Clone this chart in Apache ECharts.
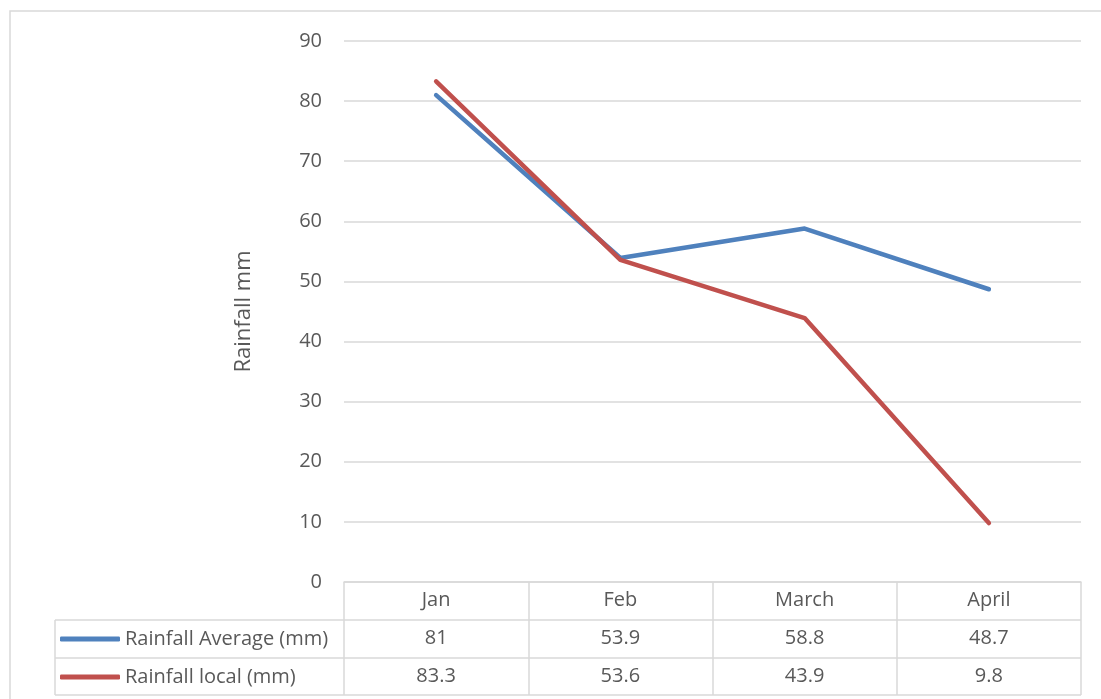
<!DOCTYPE html>
<html>
<head>
<meta charset="utf-8">
<script src="https://cdn.jsdelivr.net/npm/echarts@6/dist/echarts.min.js"></script>
<style>html,body{margin:0;padding:0;background:#fff;}#c{width:1101px;height:699px;}</style>
</head>
<body>
<div id="c"></div>
<script>
const categories = ['Jan', 'Feb', 'March', 'April'];
const seriesNames = ['Rainfall Average (mm)', 'Rainfall local (mm)'];
const rainfallAverage = [81, 53.9, 58.8, 48.7];
const rainfallLocal = [83.3, 53.6, 43.9, 9.8];
const yTicks = { min: 0, max: 90, interval: 10 };

const W = 1101, H = 699;
const gridLeft = 344, gridRight = 20, gridTop = 41, gridBottom = 117;
const rowH = 38;
const axisY = H - gridBottom;
const tableLeft = 55;
const tableRight = W - gridRight;
const lineColor = '#d9d9d9';
const textColor = '#595959';
const font = '"Open Sans", "Noto Sans", sans-serif';
const fs = 20;

const chart = echarts.init(document.getElementById('c'), null, { renderer: 'canvas' });

const tableLines = [];
[1, 2, 3].forEach(function (k) {
  const y = axisY + rowH * k - (k === 3 ? 1 : 0);
  tableLines.push({ type: 'line', shape: { x1: tableLeft, y1: y, x2: tableRight, y2: y }, style: { stroke: lineColor, lineWidth: 1.5 }, silent: true });
});
tableLines.push({ type: 'line', shape: { x1: tableLeft, y1: axisY + rowH, x2: tableLeft, y2: axisY + rowH * 3 - 1 }, style: { stroke: lineColor, lineWidth: 1.5 }, silent: true });
tableLines.push({ type: 'rect', shape: { x: 10, y: 11, width: 1200, height: 1000 }, style: { fill: 'none', stroke: lineColor, lineWidth: 1.5 }, silent: true, z: -1 });

function rowAxis(values, offset) {
  return {
    type: 'category', data: categories, position: 'bottom', offset: offset,
    axisLine: { show: false }, axisTick: { show: false }, splitLine: { show: false },
    axisLabel: { color: textColor, fontSize: fs, fontFamily: font, margin: 8,
      formatter: function (v, i) { return String(values[i]); } }
  };
}

function legendRow(name, k) {
  return {
    orient: 'horizontal', left: 60, top: axisY + rowH * k, itemGap: 0,
    itemWidth: 60, itemHeight: 5, icon: 'roundRect', padding: 0,
    textStyle: { color: textColor, fontSize: fs, fontFamily: font, lineHeight: rowH },
    data: [name], selectedMode: false
  };
}

chart.setOption({
  animation: false,
  backgroundColor: '#fff',
  grid: { left: gridLeft, right: gridRight, top: gridTop, bottom: gridBottom, containLabel: false },
  legend: [legendRow(seriesNames[0], 1), legendRow(seriesNames[1], 2)],
  xAxis: [
    {
      type: 'category', data: categories, boundaryGap: true,
      axisLine: { show: true, lineStyle: { color: lineColor, width: 1.5 } },
      axisTick: { show: true, length: rowH * 3 - 1, lineStyle: { color: lineColor, width: 1.5 } },
      axisLabel: { color: textColor, fontSize: fs, fontFamily: font, margin: 8 },
      splitLine: { show: false }
    },
    rowAxis(rainfallAverage, rowH),
    rowAxis(rainfallLocal, rowH * 2)
  ],
  yAxis: {
    type: 'value', min: yTicks.min, max: yTicks.max, interval: yTicks.interval,
    name: 'Rainfall mm', nameLocation: 'middle', nameGap: 89, nameRotate: 90,
    nameTextStyle: { color: textColor, fontSize: 22, fontFamily: font },
    axisLine: { show: false }, axisTick: { show: false },
    axisLabel: { color: textColor, fontSize: fs, fontFamily: font, margin: 22 },
    splitLine: { show: true, lineStyle: { color: lineColor, width: 1.5 } }
  },
  series: [
    { name: seriesNames[0], type: 'line', data: rainfallAverage, showSymbol: false, symbol: 'none',
      color: '#4f81bd', lineStyle: { width: 4.5, color: '#4f81bd', cap: 'round', join: 'round' }, itemStyle: { color: '#4f81bd' } },
    { name: seriesNames[1], type: 'line', data: rainfallLocal, showSymbol: false, symbol: 'none',
      color: '#c0504d', lineStyle: { width: 4.5, color: '#c0504d', cap: 'round', join: 'round' }, itemStyle: { color: '#c0504d' } }
  ],
  graphic: tableLines
});
</script>
</body>
</html>
